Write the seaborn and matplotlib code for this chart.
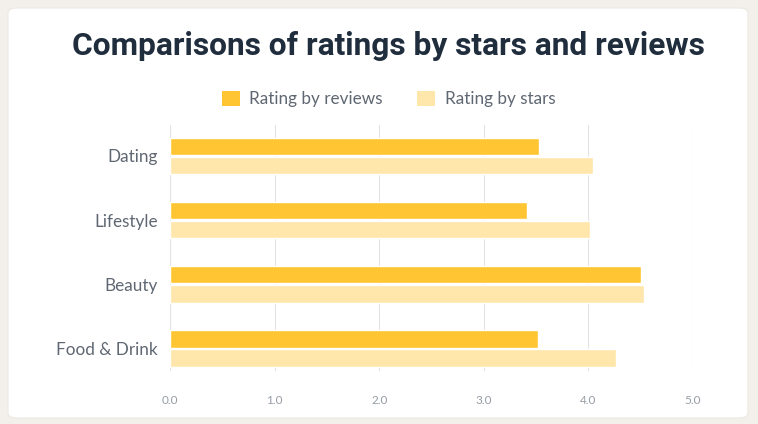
import pandas as pd
import matplotlib.pyplot as plt
import seaborn as sns
from matplotlib.patches import FancyBboxPatch, Patch

categories = ['Dating', 'Lifestyle', 'Beauty', 'Food & Drink']
by_reviews = [3.53, 3.41, 4.50, 3.52]
by_stars = [4.04, 4.02, 4.53, 4.26]
series = ['Rating by reviews', 'Rating by stars']
x_ticks = [0, 1, 2, 3, 4, 5]

df = pd.DataFrame({
    'Category': categories * 2,
    'Rating': by_reviews + by_stars,
    'Series': [series[0]] * 4 + [series[1]] * 4,
})

sns.set_theme(style="white")
plt.rcParams['font.family'] = ['Lato', 'DejaVu Sans']

colors = {'Rating by reviews': '#FFC533', 'Rating by stars': '#FFE6AA'}

fig = plt.figure(figsize=(7.58, 4.24), dpi=100)
fig.patch.set_facecolor('#F3F0EB')
card = FancyBboxPatch((8 / 758, 6 / 424), 740 / 758, 410 / 424,
                      boxstyle="round,pad=0,rounding_size=0.012",
                      transform=fig.transFigure, facecolor='white',
                      edgecolor='#ECE8E2', linewidth=0.8, zorder=-1)
fig.patches.append(card)

ax = fig.add_axes([170 / 758, 1 - 371 / 424, 523 / 758, 246 / 424])
ax.set_zorder(2)
ax.set_facecolor('none')
sns.barplot(data=df, y='Category', x='Rating', hue='Series', orient='h',
            palette=colors, width=0.6, gap=0.1, legend=False, ax=ax,
            saturation=1, zorder=3)

ax.set_xlim(0, 5)
ax.set_ylim(3.35, -0.48)
ax.set_xticks(x_ticks)
ax.set_xticklabels([f"{t:.1f}" for t in x_ticks], fontsize=8.5, color='#969CA5')
ax.tick_params(axis='x', length=0, pad=17)
ax.tick_params(axis='y', length=0, pad=9)
for lbl in ax.get_yticklabels():
    lbl.set_fontsize(12.3)
    lbl.set_color('#5F6772')
ax.set_axisbelow(True)
ax.xaxis.grid(True, color='#E3E3E3', linewidth=0.8)
ax.yaxis.grid(False)
ax.set_xlabel('')
ax.set_ylabel('')
sns.despine(ax=ax, left=True, bottom=True)

fig.text(388 / 758, 1 - 46 / 424, 'Comparisons of ratings by stars and reviews',
         ha='center', va='center', fontsize=22.8, fontweight='bold',
         color='#1F2D3D', family=['Roboto', 'DejaVu Sans'])

handles = [Patch(facecolor=colors[s], edgecolor='none') for s in series]
fig.legend(handles, series, loc='center',
           bbox_to_anchor=(388.5 / 758, 1 - 99 / 424),
           ncol=2, frameon=False, fontsize=12.3, labelcolor='#5F6772',
           handlelength=1.05, handleheight=1.0, handletextpad=0.55,
           columnspacing=2.05)

plt.savefig('out.png', dpi=100, facecolor=fig.get_facecolor())
